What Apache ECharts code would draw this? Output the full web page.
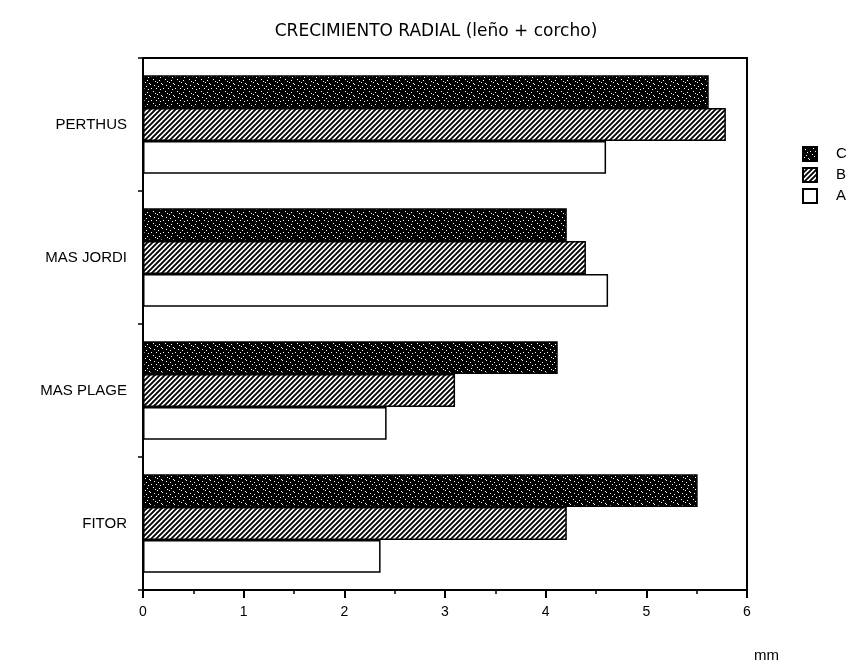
<!DOCTYPE html>
<html>
<head>
<meta charset="utf-8">
<script src="https://cdn.jsdelivr.net/npm/echarts@6/dist/echarts.min.js"></script>
<style>
html,body{margin:0;padding:0;background:#fff;}
#chart{width:862px;height:665px;}
</style>
</head>
<body>
<div id="chart"></div>
<script>
const title = 'CRECIMIENTO RADIAL (leño + corcho)';
const categories = ['FITOR', 'MAS PLAGE', 'MAS JORDI', 'PERTHUS'];
const seriesNames = ['C', 'B', 'A'];
const valuesA = [2.36, 2.42, 4.62, 4.60];
const valuesB = [4.21, 3.10, 4.40, 5.79];
const valuesC = [5.51, 4.12, 4.21, 5.62];
const xTickMin = 0;
const xTickMax = 6;
const xTickStep = 1;
const unitLabel = 'mm';

const FONT = '"Liberation Sans", Arial, sans-serif';

function hatchPattern() {
  const c = document.createElement('canvas');
  c.width = 5; c.height = 5;
  const g = c.getContext('2d');
  g.fillStyle = '#fff';
  g.fillRect(0, 0, 5, 5);
  g.strokeStyle = '#000';
  g.lineWidth = 1.9;
  g.beginPath();
  [-5, 0, 5].forEach(function (o) {
    g.moveTo(o - 1, 6);
    g.lineTo(o + 6, -1);
  });
  g.stroke();
  return c;
}

function darkPattern() {
  const c = document.createElement('canvas');
  c.width = 12; c.height = 12;
  const g = c.getContext('2d');
  g.fillStyle = '#000';
  g.fillRect(0, 0, 12, 12);
  g.fillStyle = '#fff';
  const dots = [[1,10],[3,8],[7,4],[10,1],[5,11],[9,7],[0,4],[2,2],[6,0],[11,9],[4,5]];
  dots.forEach(function (d) { g.fillRect(d[0], d[1], 1, 1); });
  return c;
}

const fills = {
  A: '#ffffff',
  B: { image: hatchPattern(), repeat: 'repeat' },
  C: { image: darkPattern(), repeat: 'repeat' }
};
const dataByName = { A: valuesA, B: valuesB, C: valuesC };

const chart = echarts.init(document.getElementById('chart'), null, { renderer: 'canvas' });
chart.setOption({
  animation: false,
  backgroundColor: '#fff',
  title: {
    text: title,
    left: 431,
    textAlign: 'center',
    top: 18,
    textStyle: { fontFamily: '"DejaVu Sans", sans-serif', fontSize: 17, fontWeight: 'normal', color: '#000' }
  },
  legend: {
    data: ['C', 'B', 'A'],
    orient: 'vertical',
    left: 797,
    top: 141,
    itemWidth: 14,
    itemHeight: 14,
    itemGap: 5,
    icon: 'rect',
    textStyle: { fontFamily: FONT, fontSize: 15, color: '#000', padding: [0, 0, 0, 14] }
  },
  grid: {
    left: 143, right: 115, top: 58, bottom: 75,
    show: true, borderColor: '#000', borderWidth: 2, backgroundColor: 'transparent'
  },
  xAxis: {
    type: 'value',
    min: xTickMin, max: xTickMax, interval: xTickStep,
    axisLine: { show: true, lineStyle: { color: '#000', width: 2 } },
    axisTick: { show: true, length: 8, lineStyle: { color: '#000', width: 2 } },
    minorTick: { show: true, splitNumber: 2, length: 4, lineStyle: { color: '#000', width: 1.5 } },
    splitLine: { show: false },
    axisLabel: { fontFamily: FONT, fontSize: 14, color: '#000', margin: 15 }
  },
  yAxis: {
    type: 'category',
    data: categories,
    axisLine: { show: true, lineStyle: { color: '#000', width: 2 } },
    axisTick: { show: true, length: 5, lineStyle: { color: '#000', width: 1.5 } },
    axisLabel: { fontFamily: FONT, fontSize: 15, color: '#000', margin: 16 }
  },
  graphic: [{
    type: 'text',
    left: 754,
    top: 648,
    style: { text: unitLabel, font: '15px ' + FONT, fill: '#000' }
  }],
  series: seriesNames.map(function (n) {
    return {
      name: n,
      type: 'bar',
      data: dataByName[n],
      barCategoryGap: '26%',
      barGap: '0%',
      itemStyle: { color: fills[n], borderColor: '#000', borderWidth: 1.5 }
    };
  })
});
</script>
</body>
</html>
